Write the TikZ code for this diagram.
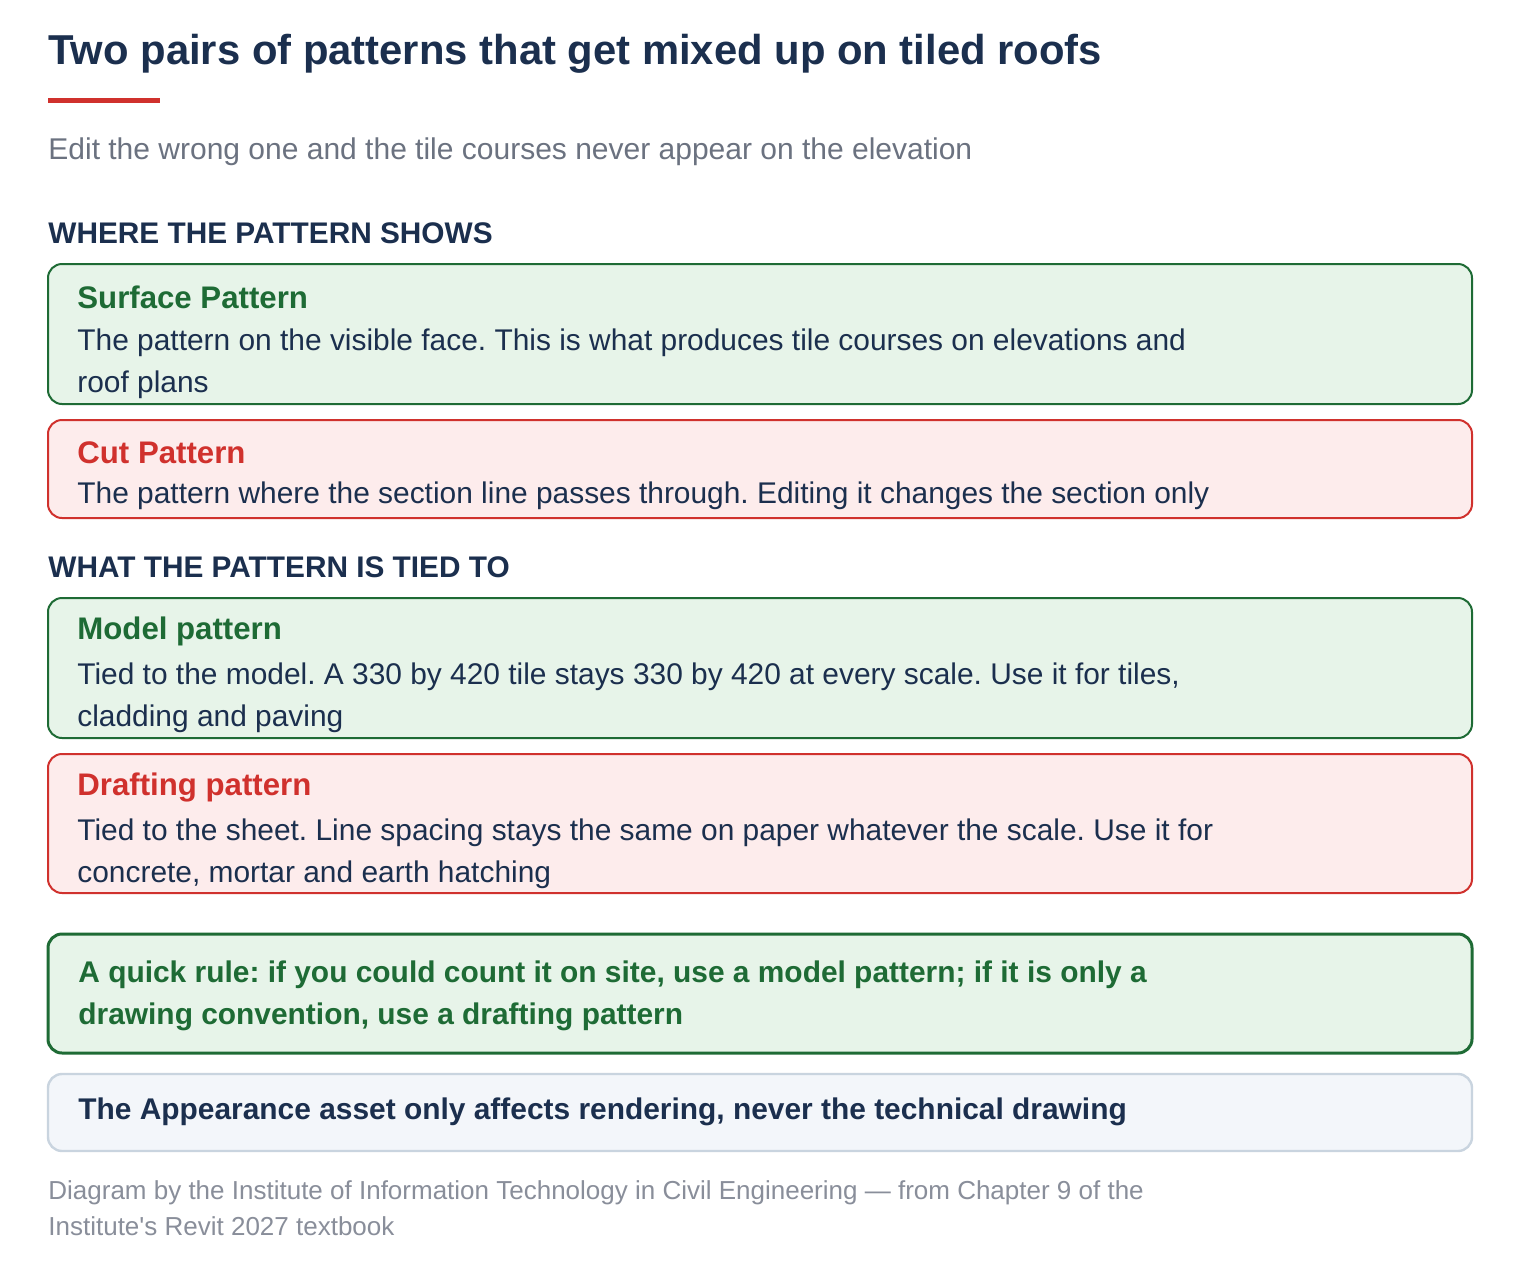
\documentclass[tikz,border=0pt]{standalone}
\usepackage{fontspec}
\setmainfont{Liberation Sans}
\usetikzlibrary{positioning}
\definecolor{navy}{HTML}{1B2F4E}
\definecolor{okgreen}{HTML}{1E6B35}
\definecolor{okfill}{HTML}{E7F4E9}
\definecolor{badred}{HTML}{D0312D}
\definecolor{badfill}{HTML}{FDECEC}
\definecolor{notegrey}{HTML}{C9D4DF}
\definecolor{notefill}{HTML}{F3F6FA}
\definecolor{mutedtxt}{HTML}{6B7280}
\begin{document}
\frenchspacing
\begin{tikzpicture}[x=0.5pt,y=-0.5pt,
            txt/.style = {anchor=west, inner sep=0pt, align=left},
            head/.style = {txt, font=\fontsize{14.9}{17}\selectfont\bfseries, text=navy},
            boxtitle/.style = {txt, font=\fontsize{15.6}{18}\selectfont\bfseries},
            body/.style = {txt, font=\fontsize{14.95}{21}\selectfont, text=navy},
            good/.style = {draw=okgreen, fill=okfill, line width=1pt, rounded corners=7pt},
            bad/.style = {draw=badred, fill=badfill, line width=1pt, rounded corners=7pt}]

        \useasboundingbox[fill=white] (0,0) rectangle (1520,1264);

        % Title
        \node[txt, font=\fontsize{20.9}{24}\selectfont\bfseries, text=navy] (title) at (48,54) {Two pairs of patterns that get mixed up on tiled roofs};
        \draw[badred, line width=2.5pt] (48,100) -- (160,100);
        \node[txt, font=\fontsize{15}{17}\selectfont, text=mutedtxt] (sub) at (48,152) {Edit the wrong one and the tile courses never appear on the elevation};

        % Where the pattern shows
        \node[head] (h1) at (48,233) {WHERE THE PATTERN SHOWS};
        \draw[good] (48,264) rectangle (1472,404);
        \node[boxtitle, text=okgreen] (surf) at (77,297) {Surface Pattern};
        \node[body, anchor=north west] (surfb) at (77,328) {The pattern on the visible face. This is what produces tile courses on elevations and\\roof plans};
        \draw[bad] (48,420) rectangle (1472,518);
        \node[boxtitle, text=badred] (cut) at (77,453) {Cut Pattern};
        \node[body] (cutb) at (77,496) {The pattern where the section line passes through. Editing it changes the section only};

        % What the pattern is tied to
        \node[head] (h2) at (48,567) {WHAT THE PATTERN IS TIED TO};
        \draw[good] (48,598) rectangle (1472,738);
        \node[boxtitle, text=okgreen] (model) at (77,631) {Model pattern};
        \node[body, anchor=north west] (modelb) at (77,662) {Tied to the model. A 330 by 420 tile stays 330 by 420 at every scale. Use it for tiles,\\cladding and paving};
        \draw[bad] (48,754) rectangle (1472,893);
        \node[boxtitle, text=badred] (draft) at (77,787) {Drafting pattern};
        \node[body, anchor=north west] (draftb) at (77,818) {Tied to the sheet. Line spacing stays the same on paper whatever the scale. Use it for\\concrete, mortar and earth hatching};

        % Rule and note
        \draw[good, line width=1.5pt] (48,934) rectangle (1472,1053);
        \node[txt, anchor=north west, font=\fontsize{14.95}{21}\selectfont\bfseries, text=okgreen] (rule) at (78,960) {A quick rule: if you could count it on site, use a model pattern; if it is only a\\drawing convention, use a drafting pattern};
        \draw[draw=notegrey, fill=notefill, line width=1.2pt, rounded corners=7pt] (48,1074) rectangle (1472,1151);
        \node[txt, font=\fontsize{14.95}{17}\selectfont\bfseries, text=navy] (note) at (78,1112) {The Appearance asset only affects rendering, never the technical drawing};

        % Footer
        \node[txt, anchor=north west, font=\fontsize{13}{18}\selectfont, text=mutedtxt!80] (foot) at (48,1180) {Diagram by the Institute of Information Technology in Civil Engineering — from Chapter 9 of the\\Institute\textquotesingle s Revit 2027 textbook};

\end{tikzpicture}
\end{document}
